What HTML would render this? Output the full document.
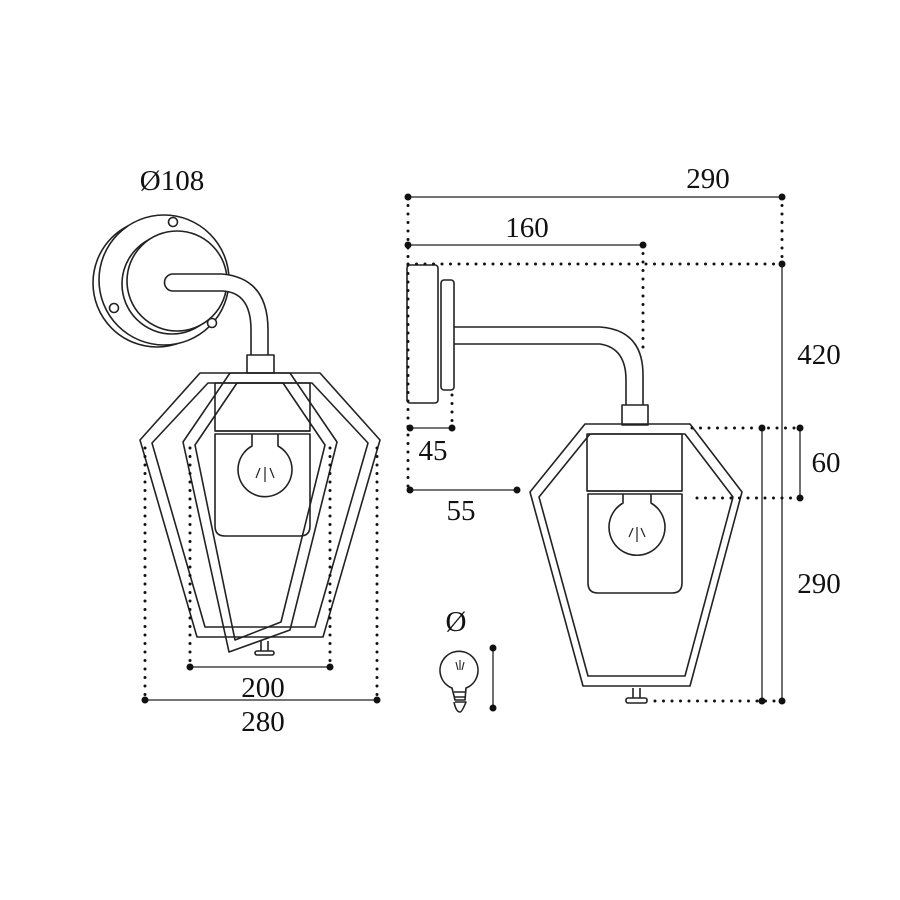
<!DOCTYPE html>
<html><head><meta charset="utf-8"><style>
html,body{margin:0;padding:0;background:#fff}
svg{display:block}
text{font-family:"Liberation Serif",serif;font-size:29px;fill:#111;text-anchor:middle}
</style></head><body>
<svg width="900" height="900" viewBox="0 0 900 900" xmlns="http://www.w3.org/2000/svg">
<g fill="none" stroke="#222" stroke-width="1.6" stroke-linejoin="round">
<!-- LEFT VIEW: wall plate -->
<circle cx="157" cy="283" r="64"/>
<circle cx="164" cy="280" r="65" fill="#fff"/>
<circle cx="172" cy="284" r="50"/>
<circle cx="177" cy="281" r="50" fill="#fff"/>
<circle cx="173" cy="222" r="4.5" fill="#fff"/>
<circle cx="114" cy="308" r="4.5" fill="#fff"/>
<circle cx="212" cy="323" r="4.5" fill="#fff"/>
<!-- arm -->
<path d="M173 274 L222 274 Q268 278 268 330 L268 356 L251 356 L251 330 Q251 292 222 291 L173 291 A8.5 8.5 0 0 1 173 274 Z" fill="#fff"/>
<rect x="247" y="355" width="27" height="18" fill="#fff"/>
<!-- back frame -->
<path d="M200 373 L320 373 L380 440 L323 637 L197 637 L140 440 Z"/>
<path d="M208 383 L312 383 L368 443 L315 627 L205 627 L152 443 Z"/>
<!-- interior -->
<rect x="215" y="383" width="95" height="48"/>
<path d="M215 431 L310 431 M215 434 L310 434 L310 526 Q310 536 300 536 L225 536 Q215 536 215 526 Z"/>
<path d="M252 434 L252 446 A27 27 0 1 0 278 446 L278 434"/>
<path d="M260 468 L256 478 M265 467 L265 482 M270 468 L274 478" stroke-width="1.2"/>
<!-- front rotated frame -->
<path d="M230 373 L290 373 L337 442 L290 630 L229 652 L183 442 Z" fill="none"/>
<path d="M237 383 L283 383 L325 445 L281 622 L235 640 L195 445 Z"/>
<!-- finial -->
<path d="M261 641 L261 651 M268 641 L268 651"/>
<rect x="255" y="651" width="19" height="4" rx="2" fill="#fff"/>

<!-- RIGHT VIEW -->
<rect x="407" y="265" width="31" height="138" rx="3" fill="#fff"/>
<rect x="441" y="280" width="13" height="110" rx="3" fill="#fff"/>
<path d="M454 327 L600 327 Q643 330 643 375 L643 406 M454 344 L600 344 Q626 348 626 380 L626 406"/>
<rect x="622" y="405" width="26" height="20" fill="#fff"/>
<path d="M585 424 L690 424 L742 492 L690 686 L583 686 L530 492 Z"/>
<path d="M590 434 L685 434 L733 497 L685 676 L588 676 L539 497 Z"/>
<rect x="587" y="434" width="95" height="57"/>
<path d="M587 491 L682 491 M588 494 L682 494 L682 583 Q682 593 672 593 L598 593 Q588 593 588 583 Z"/>
<path d="M623 494 L623 503 A28 28 0 1 0 651 503 L651 494"/>
<path d="M633 528 L629 537 M637 527 L637 542 M641 528 L645 537" stroke-width="1.2"/>
<path d="M633 688 L633 700 M640 688 L640 700"/>
<rect x="626" y="698" width="21" height="5" rx="2" fill="#fff"/>
<!-- small bulb -->
<path d="M452 688 A19 19 0 1 1 466 688 L465 700 L455 700 Z"/>
<path d="M454 692 L466 692 M454 697 L466 697 M455 702 L466 702 Q462 712 460 712 Q456 712 454 702"/>
<path d="M456 662 L458 670 M460 660 L460 670 M464 662 L462 670" stroke-width="1.1"/>
</g>

<!-- dimension solid lines -->
<g stroke="#222" stroke-width="1.3">
<line x1="190" y1="667" x2="330" y2="667"/>
<line x1="145" y1="700" x2="377" y2="700"/>
<line x1="408" y1="197" x2="782" y2="197"/>
<line x1="408" y1="245" x2="643" y2="245"/>
<line x1="782" y1="264" x2="782" y2="701"/>
<line x1="762" y1="428" x2="762" y2="701"/>
<line x1="800" y1="428" x2="800" y2="498"/>
<line x1="410" y1="428" x2="452" y2="428"/>
<line x1="410" y1="490" x2="517" y2="490"/>
<line x1="493" y1="648" x2="493" y2="708"/>
</g>
<!-- dotted -->
<g stroke="#111" stroke-width="3" stroke-linecap="round" stroke-dasharray="0 8.5" fill="none">
<line x1="190" y1="448" x2="190" y2="667"/>
<line x1="330" y1="448" x2="330" y2="667"/>
<line x1="145" y1="448" x2="145" y2="700"/>
<line x1="377" y1="448" x2="377" y2="700"/>
<line x1="408" y1="197" x2="408" y2="490"/>
<line x1="643" y1="245" x2="643" y2="355"/>
<line x1="782" y1="197" x2="782" y2="264"/>
<line x1="408" y1="264" x2="782" y2="264"/>
<line x1="452" y1="395" x2="452" y2="428"/>
<line x1="692" y1="428" x2="800" y2="428"/>
<line x1="697" y1="498" x2="800" y2="498"/>
<line x1="655" y1="701" x2="782" y2="701"/>
</g>
<!-- end dots -->
<g fill="#111">
<circle cx="190" cy="667" r="3.5"/><circle cx="330" cy="667" r="3.5"/>
<circle cx="145" cy="700" r="3.5"/><circle cx="377" cy="700" r="3.5"/>
<circle cx="408" cy="197" r="3.5"/><circle cx="782" cy="197" r="3.5"/>
<circle cx="408" cy="245" r="3.5"/><circle cx="643" cy="245" r="3.5"/>
<circle cx="782" cy="264" r="3.5"/><circle cx="782" cy="701" r="3.5"/>
<circle cx="762" cy="428" r="3.5"/><circle cx="762" cy="701" r="3.5"/>
<circle cx="800" cy="428" r="3.5"/><circle cx="800" cy="498" r="3.5"/>
<circle cx="410" cy="428" r="3.5"/><circle cx="452" cy="428" r="3.5"/>
<circle cx="410" cy="490" r="3.5"/><circle cx="517" cy="490" r="3.5"/>
<circle cx="493" cy="648" r="3.5"/><circle cx="493" cy="708" r="3.5"/>
</g>
<text x="172" y="190">Ø108</text>
<text x="263" y="697">200</text>
<text x="263" y="731">280</text>
<text x="708" y="188">290</text>
<text x="527" y="237">160</text>
<text x="819" y="364">420</text>
<text x="826" y="472">60</text>
<text x="819" y="593">290</text>
<text x="433" y="460">45</text>
<text x="461" y="520">55</text>
<text x="456" y="631">Ø</text>
</svg>
</body></html>
